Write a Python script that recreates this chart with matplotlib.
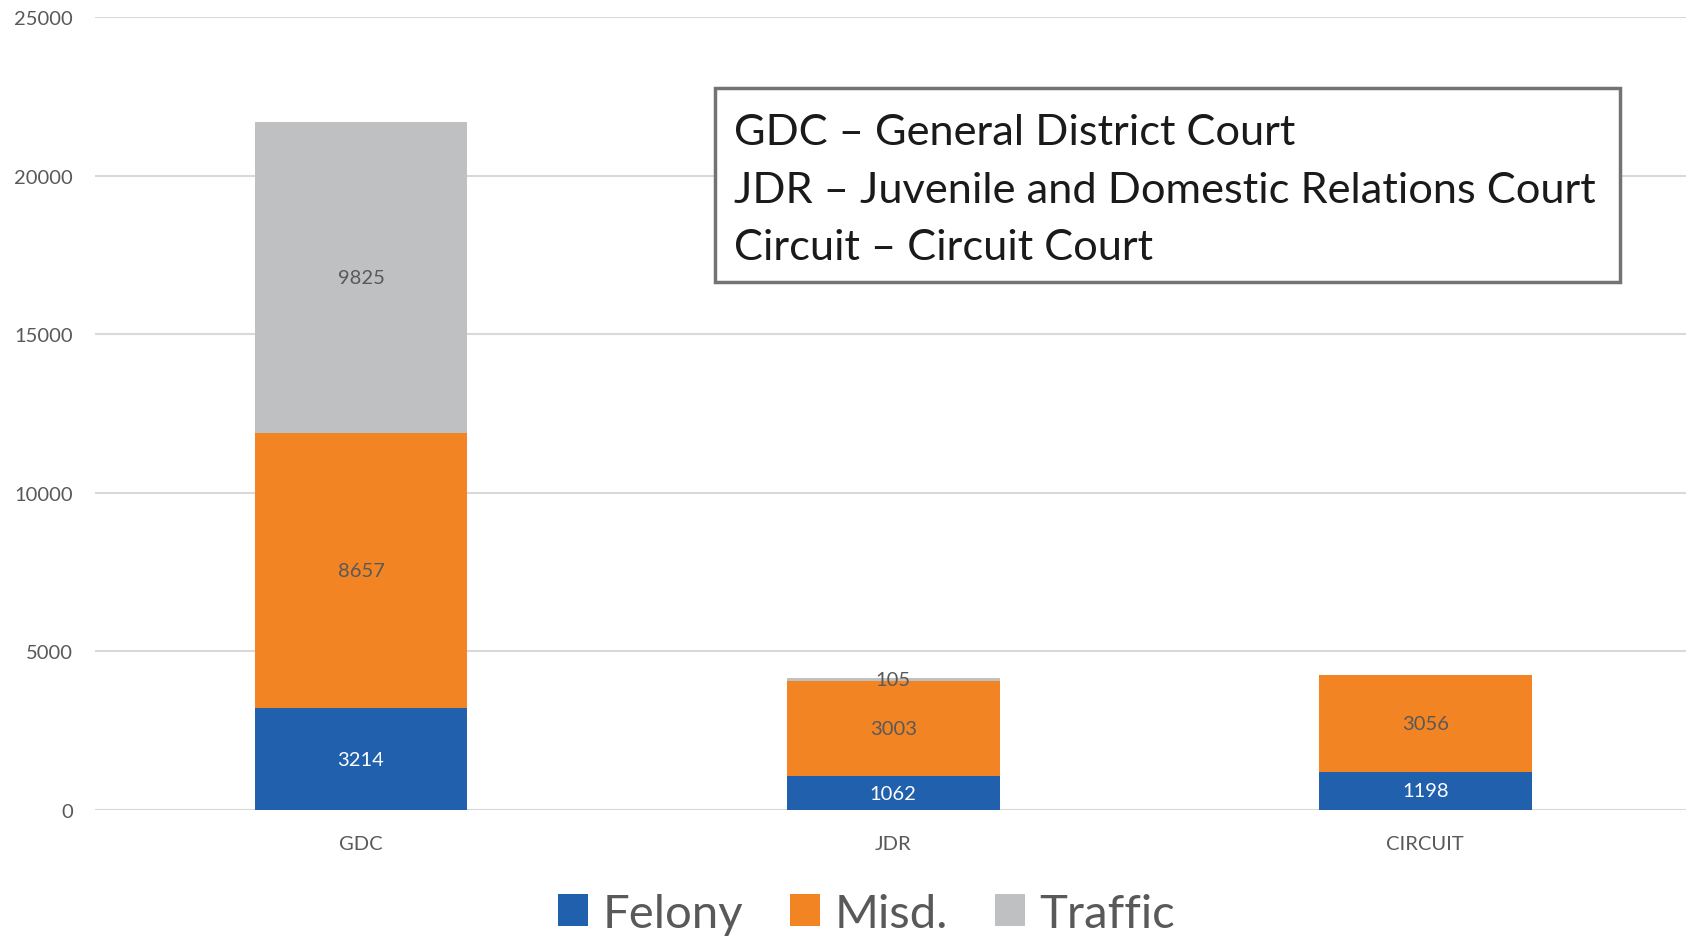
import matplotlib
matplotlib.use("Agg")
import matplotlib.pyplot as plt
from matplotlib.patches import Patch, Rectangle
import numpy as np

categories = ["GDC", "JDR", "CIRCUIT"]
felony = [3214, 1062, 1198]
misd = [8657, 3003, 3056]
traffic = [9825, 105, 0]
series_names = ["Felony", "Misd.", "Traffic"]
yticks = [0, 5000, 10000, 15000, 20000, 25000]
box_lines = ["GDC \u2013 General District Court",
             "JDR \u2013 Juvenile and Domestic Relations Court",
             "Circuit \u2013 Circuit Court"]

colors = ["#2160AD", "#F28424", "#BFC0C2"]
label_colors = ["white", "#595959", "#595959"]
FONT = "Lato"
plt.rcParams["font.family"] = [FONT, "DejaVu Sans"]

fig = plt.figure(figsize=(16.86, 9.37), dpi=100)
ax = fig.add_axes([95/1686, 1-811/937, 1-95/1686, (811-18)/937])

x = np.arange(len(categories))
bottom = np.zeros(len(categories))
for vals, c, lc in zip([felony, misd, traffic], colors, label_colors):
    vals = np.array(vals, dtype=float)
    ax.bar(x, vals, width=0.4, bottom=bottom, color=c, zorder=3, linewidth=0)
    for xi, v, b in zip(x, vals, bottom):
        if v > 0:
            ax.text(xi, b + v/2, f"{int(v)}", ha="center", va="center",
                    fontsize=14.5, color=lc, zorder=4)
    bottom += vals

ax.set_xlim(-0.5, 2.49)
ax.set_ylim(0, 25000)
ax.set_yticks(yticks)
ax.set_yticklabels([str(t) for t in yticks])
ax.set_xticks(x)
ax.set_xticklabels(categories)
ax.yaxis.grid(True, color="#D9D9D9", linewidth=1.5, zorder=0)
ax.set_axisbelow(True)
for s in ax.spines.values():
    s.set_visible(False)
ax.tick_params(axis="both", length=0, labelsize=14.5, labelcolor="#595959")
ax.tick_params(axis="y", pad=16)
ax.tick_params(axis="x", pad=18)

# Text box
fig.patches.append(Rectangle((715/1686, 1-283/937), (1620-715)/1686, (283-89)/937,
                             transform=fig.transFigure, fill=True,
                             edgecolor="#737373", linewidth=2.5, facecolor="white",
                             zorder=5))
for line, base in zip(box_lines, [145, 203, 260]):
    fig.text(734/1686, 1-base/937, line, ha="left", va="baseline", fontsize=31.2,
             color="#1a1a1a", zorder=6)

handles = [Patch(facecolor=c, edgecolor="none") for c in colors]
fig.legend(handles, series_names, loc="center", bbox_to_anchor=(0.514, 0.024),
           ncol=3, frameon=False, fontsize=34, labelcolor="#595959",
           handlelength=0.64, handleheight=0.64, handletextpad=0.3,
           columnspacing=1.0)

fig.savefig("out.png", dpi=100)
